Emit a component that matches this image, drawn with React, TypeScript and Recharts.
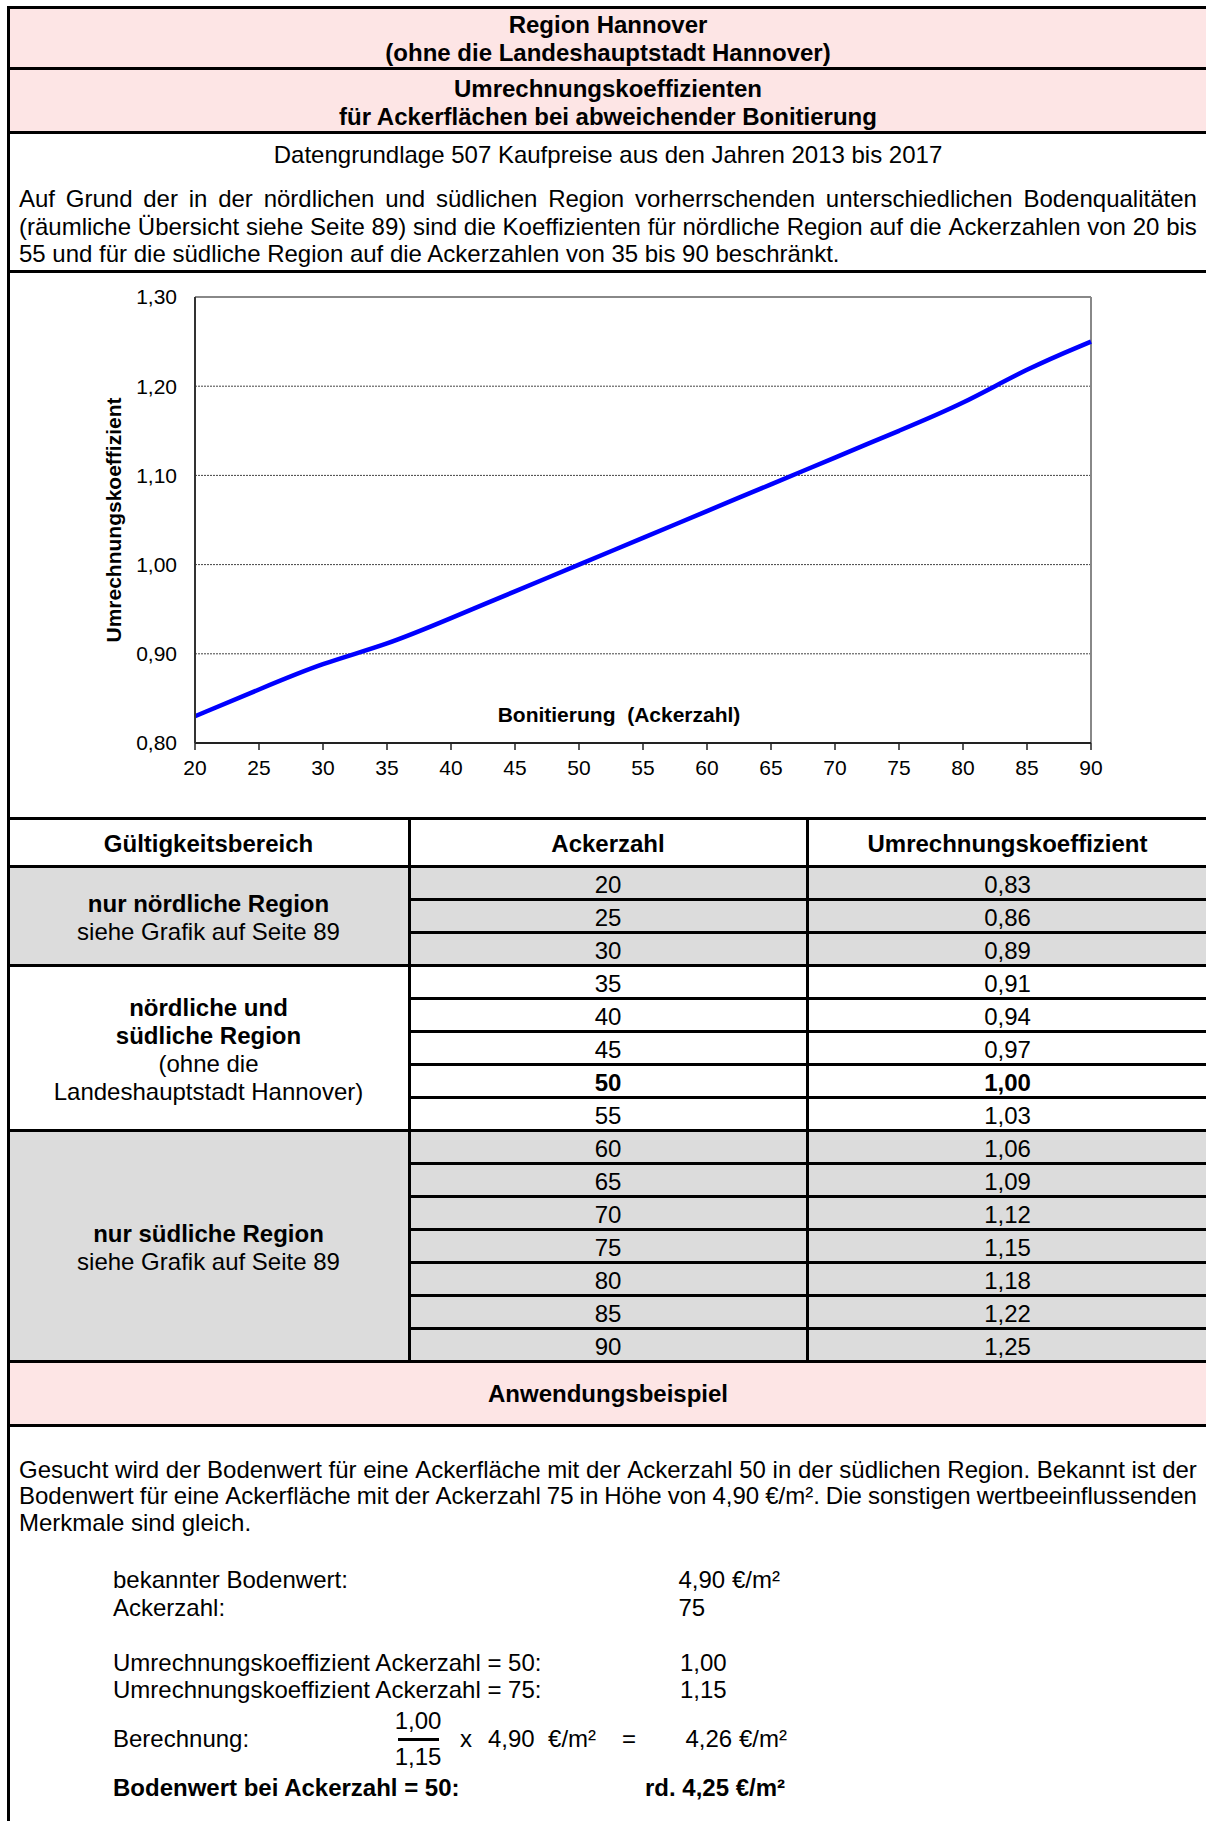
import React from "react";
import { LineChart, Line, XAxis, YAxis, CartesianGrid, ReferenceLine } from "recharts";

const ackerzahl = [20, 25, 30, 35, 40, 45, 50, 55, 60, 65, 70, 75, 80, 85, 90];
const koeffizient = [0.83, 0.86, 0.89, 0.91, 0.94, 0.97, 1.0, 1.03, 1.06, 1.09, 1.12, 1.15, 1.18, 1.22, 1.25];

const xTicks = [20, 25, 30, 35, 40, 45, 50, 55, 60, 65, 70, 75, 80, 85, 90];
const yTicks = [0.8, 0.9, 1.0, 1.1, 1.2, 1.3];

const regions = [
  { from: 0, to: 3, grey: true, lines: [{ t: "nur nördliche Region", b: true }, { t: "siehe Grafik auf Seite 89" }] },
  {
    from: 3,
    to: 8,
    grey: false,
    lines: [
      { t: "nördliche und", b: true },
      { t: "südliche Region", b: true },
      { t: "(ohne die" },
      { t: "Landeshauptstadt Hannover)" },
    ],
  },
  { from: 8, to: 15, grey: true, lines: [{ t: "nur südliche Region", b: true }, { t: "siehe Grafik auf Seite 89" }] },
];

const data = ackerzahl.map((a, i) => ({ ackerzahl: a, koeffizient: koeffizient[i] }));

const FONT = "'Liberation Sans', Arial, Helvetica, sans-serif";
const PINK = "#fde5e5";
const GREY = "#dcdcdc";

const BOX_L = 6.5;
const BOX_R = 1209.5;
const MID = 608;
const COL1 = 409;
const COL2 = 807;
const ROW0 = 866;
const ROW_H = 33;

const fmt = (v: number) => v.toFixed(2).replace(".", ",");

function Txt({ x, y, w = 0, align = "left", bold = false, size = 24, lh = 28, children }: any) {
  const left = align === "center" ? x - w / 2 : x;
  return (
    <div
      style={{
        position: "absolute",
        left,
        top: y - lh / 2,
        width: w || undefined,
        height: lh,
        lineHeight: `${lh}px`,
        fontSize: size,
        fontWeight: bold ? 700 : 400,
        textAlign: align,
        whiteSpace: "nowrap",
      }}
    >
      {children}
    </div>
  );
}

function JustLine({ y, text }: { y: number; text: string }) {
  return (
    <div
      style={{
        position: "absolute",
        left: 19,
        top: y - 14,
        width: 1178,
        height: 28,
        lineHeight: "28px",
        fontSize: 24,
        display: "flex",
        justifyContent: "space-between",
        whiteSpace: "nowrap",
      }}
    >
      {text.split(" ").map((w, i) => (
        <span key={i}>{w}</span>
      ))}
    </div>
  );
}

const HLine = ({ y, x1 = BOX_L, x2 = BOX_R }: any) => (
  <div style={{ position: "absolute", left: x1, top: y - 1.5, width: x2 - x1, height: 3, background: "#000" }} />
);
const VLine = ({ x, y1, y2 }: any) => (
  <div style={{ position: "absolute", left: x - 1.5, top: y1, width: 3, height: y2 - y1, background: "#000" }} />
);
const Fill = ({ y1, y2, color }: any) => (
  <div style={{ position: "absolute", left: BOX_L, top: y1, width: BOX_R - BOX_L, height: y2 - y1, background: color }} />
);

function Chart() {
  return (
    <div style={{ position: "absolute", left: 0, top: 273 }}>
      <LineChart width={1206} height={544} data={data} margin={{ top: 24, right: 115, bottom: 34, left: 75 }}>
        <CartesianGrid vertical={false} stroke="#444" strokeDasharray="2 1" />
        <XAxis
          dataKey="ackerzahl"
          type="number"
          domain={[20, 90]}
          ticks={xTicks}
          height={40}
          tickSize={7}
          tickMargin={10}
          axisLine={{ stroke: "#222", strokeWidth: 2 }}
          tickLine={{ stroke: "#222", strokeWidth: 1.5 }}
          tick={{ fill: "#000", fontSize: 21, fontFamily: FONT }}
          label={() => (
            <text
              x={619}
              y={441.5}
              textAnchor="middle"
              dominantBaseline="central"
              fontSize={21}
              fontWeight="bold"
              fontFamily={FONT}
              fill="#000"
            >
              Bonitierung{"\u00a0\u00a0"}(Ackerzahl)
            </text>
          )}
        />
        <YAxis
          type="number"
          domain={[0.8, 1.3]}
          ticks={yTicks}
          width={120}
          tickSize={0}
          tickMargin={18}
          tickFormatter={fmt}
          axisLine={{ stroke: "#333", strokeWidth: 2 }}
          tickLine={false}
          tick={{ fill: "#000", fontSize: 21, fontFamily: FONT }}
          label={() => (
            <text
              x={113}
              y={247}
              transform="rotate(-90 113 247)"
              textAnchor="middle"
              dominantBaseline="central"
              fontSize={21}
              fontWeight="bold"
              fontFamily={FONT}
              fill="#000"
            >
              Umrechnungskoeffizient
            </text>
          )}
        />
        <ReferenceLine y={1.3} stroke="#888" strokeWidth={2} />
        <ReferenceLine x={90} stroke="#888" strokeWidth={2} />
        <Line
          type="basis"
          dataKey="koeffizient"
          stroke="#0000ff"
          strokeWidth={4.5}
          dot={false}
          activeDot={false}
          isAnimationActive={false}
        />
      </LineChart>
    </div>
  );
}

export default function App() {
  const rowsEnd = ROW0 + ROW_H * ackerzahl.length;
  return (
    <div
      style={{
        position: "absolute",
        left: 0,
        top: 0,
        width: 1206,
        height: 1821,
        overflow: "hidden",
        background: "#fff",
        fontFamily: FONT,
        color: "#000",
      }}
    >
      {/* fills */}
      <Fill y1={7.5} y2={132} color={PINK} />
      {regions
        .filter((r) => r.grey)
        .map((r, i) => (
          <Fill key={i} y1={ROW0 + r.from * ROW_H} y2={ROW0 + r.to * ROW_H} color={GREY} />
        ))}
      <Fill y1={rowsEnd} y2={1425} color={PINK} />

      {/* frame */}
      <VLine x={8} y1={6} y2={1900} />
      <VLine x={1208} y1={6} y2={1900} />
      <HLine y={7.5} />
      <HLine y={68.5} />
      <HLine y={132} />
      <HLine y={271.5} />
      <HLine y={818} />
      <HLine y={ROW0} />
      {ackerzahl.map((_, i) => {
        const y = ROW0 + (i + 1) * ROW_H;
        const full = regions.some((r) => r.to === i + 1);
        return <HLine key={i} y={y} x1={full ? BOX_L : COL1} />;
      })}
      <HLine y={1425} />
      <VLine x={COL1} y1={818} y2={rowsEnd} />
      <VLine x={COL2} y1={818} y2={rowsEnd} />

      {/* header */}
      <Txt x={MID} w={1000} y={24.5} align="center" bold>
        Region Hannover
      </Txt>
      <Txt x={MID} w={1000} y={52.5} align="center" bold>
        (ohne die Landeshauptstadt Hannover)
      </Txt>
      <Txt x={MID} w={1000} y={88.5} align="center" bold>
        Umrechnungskoeffizienten
      </Txt>
      <Txt x={MID} w={1000} y={116.5} align="center" bold>
        für Ackerflächen bei abweichender Bonitierung
      </Txt>

      <Txt x={MID} w={1000} y={154.5} align="center">
        Datengrundlage 507 Kaufpreise aus den Jahren 2013 bis 2017
      </Txt>
      <JustLine
        y={198.7}
        text="Auf Grund der in der nördlichen und südlichen Region vorherrschenden unterschiedlichen Bodenqualitäten"
      />
      <JustLine
        y={226.5}
        text="(räumliche Übersicht siehe Seite 89) sind die Koeffizienten für nördliche Region auf die Ackerzahlen von 20 bis"
      />
      <Txt x={19} y={254.4}>
        55 und für die südliche Region auf die Ackerzahlen von 35 bis 90 beschränkt.
      </Txt>

      <Chart />

      {/* table */}
      <Txt x={(8 + COL1) / 2} w={390} y={844} align="center" bold>
        Gültigkeitsbereich
      </Txt>
      <Txt x={MID} w={390} y={844} align="center" bold>
        Ackerzahl
      </Txt>
      <Txt x={(COL2 + 1208) / 2} w={390} y={844} align="center" bold>
        Umrechnungskoeffizient
      </Txt>
      {regions.map((r, ri) => {
        const c = ROW0 + ((r.from + r.to) / 2) * ROW_H + 2.5;
        const top = c - ((r.lines.length - 1) * 28) / 2;
        return r.lines.map((l, li) => (
          <Txt key={`${ri}-${li}`} x={(8 + COL1) / 2} w={390} y={top + li * 28} align="center" bold={!!l.b}>
            {l.t}
          </Txt>
        ));
      })}
      {ackerzahl.map((a, i) => {
        const y = ROW0 + i * ROW_H + ROW_H / 2 + 2;
        const bold = a === 50;
        return (
          <React.Fragment key={a}>
            <Txt x={MID} w={390} y={y} align="center" bold={bold}>
              {a}
            </Txt>
            <Txt x={(COL2 + 1208) / 2} w={390} y={y} align="center" bold={bold}>
              {fmt(koeffizient[i])}
            </Txt>
          </React.Fragment>
        );
      })}

      {/* Anwendungsbeispiel */}
      <Txt x={MID} w={1000} y={1393.5} align="center" bold>
        Anwendungsbeispiel
      </Txt>
      <JustLine
        y={1469.7}
        text="Gesucht wird der Bodenwert für eine Ackerfläche mit der Ackerzahl 50 in der südlichen Region. Bekannt ist der"
      />
      <JustLine
        y={1496.4}
        text="Bodenwert für eine Ackerfläche mit der Ackerzahl 75 in Höhe von 4,90 €/m². Die sonstigen wertbeeinflussenden"
      />
      <Txt x={19} y={1523.1}>
        Merkmale sind gleich.
      </Txt>

      <Txt x={113} y={1580}>bekannter Bodenwert:</Txt>
      <Txt x={678.5} y={1580}>4,90 €/m²</Txt>
      <Txt x={113} y={1608}>Ackerzahl:</Txt>
      <Txt x={678.5} y={1608}>75</Txt>

      <Txt x={113} y={1662.5}>Umrechnungskoeffizient Ackerzahl = 50:</Txt>
      <Txt x={680} y={1662.5}>1,00</Txt>
      <Txt x={113} y={1690.4}>Umrechnungskoeffizient Ackerzahl = 75:</Txt>
      <Txt x={680} y={1690.4}>1,15</Txt>

      <Txt x={113} y={1739}>Berechnung:</Txt>
      <Txt x={418} w={80} y={1720.6} align="center">
        1,00
      </Txt>
      <div style={{ position: "absolute", left: 398, top: 1738, width: 41, height: 2.5, background: "#000" }} />
      <Txt x={418} w={80} y={1757} align="center">
        1,15
      </Txt>
      <Txt x={460} y={1739}>x</Txt>
      <Txt x={488} y={1739}>
        4,90{"\u00a0\u00a0"}€/m²
      </Txt>
      <Txt x={622} y={1739}>=</Txt>
      <Txt x={685.5} y={1739}>4,26 €/m²</Txt>

      <Txt x={113} y={1788} bold>
        Bodenwert bei Ackerzahl = 50:
      </Txt>
      <Txt x={645} y={1788} bold>
        rd. 4,25 €/m²
      </Txt>
    </div>
  );
}
